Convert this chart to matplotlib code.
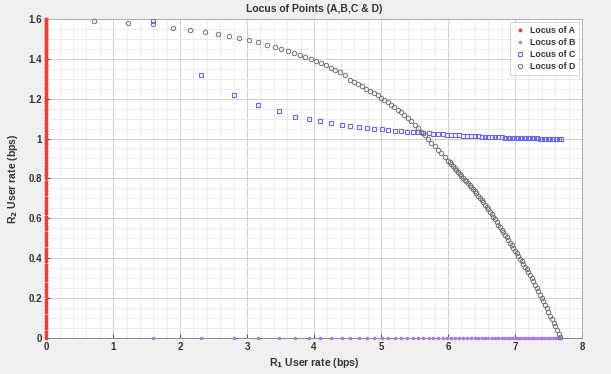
import numpy as np
import matplotlib.pyplot as plt
from matplotlib.ticker import MultipleLocator

plt.rcParams["font.family"] = ["Liberation Sans", "DejaVu Sans"]
plt.rcParams["font.weight"] = "bold"

# Locus A: R1 = 0, R2 sweeps up the axis
a_r2 = [0.000, 0.016, 0.032, 0.048, 0.064, 0.080, 0.096, 0.112, 0.128, 0.144,
        0.160, 0.176, 0.192, 0.208, 0.224, 0.240, 0.256, 0.272, 0.288, 0.304,
        0.320, 0.336, 0.352, 0.368, 0.384, 0.400, 0.416, 0.432, 0.448, 0.464,
        0.480, 0.496, 0.512, 0.528, 0.544, 0.560, 0.576, 0.592, 0.608, 0.624,
        0.640, 0.656, 0.672, 0.688, 0.704, 0.720, 0.736, 0.752, 0.768, 0.784,
        0.800, 0.815, 0.830, 0.845, 0.860, 0.875, 0.890, 0.905, 0.920, 0.935,
        0.950, 0.965, 0.980, 0.995, 1.010, 1.024, 1.038, 1.052, 1.066, 1.080,
        1.094, 1.108, 1.122, 1.136, 1.150, 1.163, 1.176, 1.189, 1.202, 1.215,
        1.228, 1.241, 1.254, 1.267, 1.280, 1.292, 1.304, 1.316, 1.328, 1.340,
        1.352, 1.364, 1.376, 1.388, 1.400, 1.411, 1.422, 1.433, 1.444, 1.455,
        1.466, 1.477, 1.488, 1.499, 1.510, 1.520, 1.530, 1.540, 1.550, 1.560,
        1.570, 1.580, 1.590, 1.600]
a_r1 = [0.0] * len(a_r2)

# Locus C
c_r1 = [1.60, 2.31, 2.80, 3.17, 3.47, 3.72, 3.92, 4.09, 4.26, 4.41,
        4.54, 4.67, 4.79, 4.90, 5.01, 5.11, 5.21, 5.30, 5.39, 5.47,
        5.55, 5.63, 5.71, 5.78, 5.85, 5.92, 5.99, 6.05, 6.11, 6.17,
        6.23, 6.29, 6.35, 6.40, 6.45, 6.50, 6.55, 6.60, 6.65, 6.70,
        6.75, 6.80, 6.85, 6.89, 6.93, 6.97, 7.01, 7.05, 7.09, 7.13,
        7.17, 7.21, 7.25, 7.29, 7.33, 7.37, 7.41, 7.45, 7.49, 7.53,
        7.57, 7.61, 7.65, 7.68]
c_r2 = [1.590, 1.318, 1.218, 1.167, 1.139, 1.110, 1.097, 1.088, 1.079, 1.070,
        1.064, 1.059, 1.054, 1.050, 1.046, 1.043, 1.040, 1.037, 1.035, 1.033,
        1.031, 1.029, 1.027, 1.025, 1.023, 1.022, 1.020, 1.019, 1.017, 1.016,
        1.015, 1.014, 1.013, 1.012, 1.011, 1.010, 1.009, 1.008, 1.008, 1.007,
        1.006, 1.006, 1.005, 1.005, 1.004, 1.004, 1.003, 1.003, 1.002, 1.002,
        1.002, 1.001, 1.001, 1.001, 1.001, 1.000, 1.000, 1.000, 1.000, 1.000,
        1.000, 1.000, 1.000, 1.000]

# Locus B: same R1 points as C, R2 = 0
b_r1 = list(c_r1)
b_r2 = [0.0] * len(b_r1)

# Locus D
d_r1 = [0.72, 1.22, 1.60, 1.90, 2.15, 2.37, 2.57, 2.73, 2.88, 3.03,
        3.17, 3.30, 3.41, 3.51, 3.61, 3.70, 3.79, 3.87, 3.95, 4.03,
        4.11, 4.18, 4.25, 4.32, 4.39, 4.46, 4.53, 4.59, 4.65, 4.71,
        4.77, 4.83, 4.89, 4.95, 5.00, 5.05, 5.10, 5.15, 5.20, 5.25,
        5.30, 5.35, 5.40, 5.45, 5.50, 5.55, 5.60, 5.65, 5.70, 5.75,
        5.80, 5.85, 5.90, 5.95,
        6.000, 6.025, 6.050, 6.075, 6.100, 6.125, 6.150, 6.175, 6.200, 6.225,
        6.250, 6.275, 6.300, 6.325, 6.350, 6.375, 6.400, 6.425, 6.450, 6.475,
        6.500, 6.525, 6.550, 6.575, 6.600, 6.625, 6.650, 6.675, 6.700, 6.725,
        6.750, 6.775, 6.800, 6.825, 6.850, 6.875, 6.900, 6.925, 6.950, 6.975,
        7.000, 7.025, 7.050, 7.075, 7.100, 7.125, 7.150, 7.175, 7.200, 7.225,
        7.250, 7.275, 7.300, 7.325, 7.350, 7.375, 7.400, 7.425, 7.450, 7.475,
        7.500, 7.525, 7.550, 7.575, 7.600, 7.625, 7.650, 7.675]
d_r2 = [1.590, 1.578, 1.575, 1.556, 1.546, 1.536, 1.526, 1.514, 1.504, 1.494,
        1.482, 1.471, 1.461, 1.450, 1.440, 1.430, 1.420, 1.410, 1.400, 1.390,
        1.378, 1.367, 1.356, 1.345, 1.333, 1.321, 1.292, 1.282, 1.272, 1.261,
        1.250, 1.239, 1.228, 1.216, 1.205, 1.193, 1.181, 1.169, 1.157, 1.145,
        1.132, 1.118, 1.103, 1.087, 1.070, 1.052, 1.034, 1.016, 0.998, 0.980,
        0.962, 0.944, 0.926, 0.908,
        0.889, 0.880, 0.870, 0.861, 0.851, 0.842, 0.832, 0.823, 0.813, 0.804,
        0.794, 0.785, 0.775, 0.766, 0.756, 0.746, 0.736, 0.725, 0.714, 0.703,
        0.692, 0.681, 0.669, 0.657, 0.645, 0.633, 0.620, 0.607, 0.594, 0.581,
        0.568, 0.555, 0.542, 0.529, 0.516, 0.504, 0.491, 0.478, 0.465, 0.452,
        0.438, 0.425, 0.411, 0.398, 0.384, 0.371, 0.357, 0.344, 0.330, 0.315,
        0.299, 0.283, 0.267, 0.251, 0.234, 0.217, 0.200, 0.183, 0.165, 0.148,
        0.130, 0.112, 0.094, 0.076, 0.058, 0.040, 0.021, 0.004]


def main():
    fig = plt.figure(figsize=(6.11, 3.74), dpi=100, facecolor="#f0f0f0")
    ax = fig.add_axes([0.0755, 0.0965, 0.877, 0.853])
    ax.set_facecolor("white")

    ax.plot(a_r1, a_r2, linestyle="none", marker="*", markersize=2.6,
            color="#e8403c", clip_on=False, zorder=4, label="Locus of A")
    ax.plot(b_r1, b_r2, linestyle="none", marker=".", markersize=3.0,
            color="#a878e6", clip_on=False, zorder=3, label="Locus of B")
    ax.plot(c_r1, c_r2, linestyle="none", marker="s", markersize=3.1,
            markerfacecolor="none", markeredgecolor="#6a6ae6",
            markeredgewidth=0.8, zorder=3, label="Locus of C")
    ax.plot(d_r1, d_r2, linestyle="none", marker="o", markersize=3.2,
            markerfacecolor="none", markeredgecolor="#707070",
            markeredgewidth=0.7, clip_on=False, zorder=3, label="Locus of D")

    ax.set_xlim(0, 8)
    ax.set_ylim(0, 1.6)
    ax.xaxis.set_major_locator(MultipleLocator(1))
    ax.xaxis.set_minor_locator(MultipleLocator(0.2))
    ax.yaxis.set_minor_locator(MultipleLocator(0.05))
    ax.set_yticks(np.arange(0, 1.61, 0.2))
    ax.set_yticklabels(["0", "0.2", "0.4", "0.6", "0.8", "1", "1.2", "1.4", "1.6"])
    ax.grid(which="major", color="#cfcfcf", linewidth=0.7)
    ax.grid(which="minor", color="#e8e8e8", linewidth=0.6)
    ax.set_axisbelow(True)

    ax.tick_params(which="both", direction="in", labelsize=7, colors="#555555",
                   labelcolor="#333333", pad=3)
    ax.tick_params(which="major", length=3)
    ax.tick_params(which="minor", length=0)
    for s in ax.spines.values():
        s.set_color("#b0b0b0")
        s.set_linewidth(0.7)
    ax.spines["left"].set_color("#8a8a8a")
    ax.spines["bottom"].set_color("#8a8a8a")

    ax.set_title("Locus of Points (A,B,C & D)", fontsize=7.5, fontweight="bold",
                 color="#333333", pad=5)
    ax.set_xlabel("R$_\\mathbf{1}$ User rate (bps)", fontsize=7.5, fontweight="bold",
                  color="#333333", labelpad=3)
    ax.set_ylabel("R$_\\mathbf{2}$ User rate (bps)", fontsize=7.5, fontweight="bold",
                  color="#333333", labelpad=6)

    leg = ax.legend(loc="upper right", fontsize=6.3, frameon=True, fancybox=False,
                    edgecolor="#c8c8c8", borderpad=0.5, handlelength=1.1,
                    handletextpad=0.6, labelspacing=0.35, borderaxespad=0.3)
    leg.get_frame().set_linewidth(0.7)
    for t in leg.get_texts():
        t.set_color("#333333")

    fig.savefig("out.png", dpi=100, facecolor=fig.get_facecolor())
    plt.close(fig)


if __name__ == "__main__":
    main()
